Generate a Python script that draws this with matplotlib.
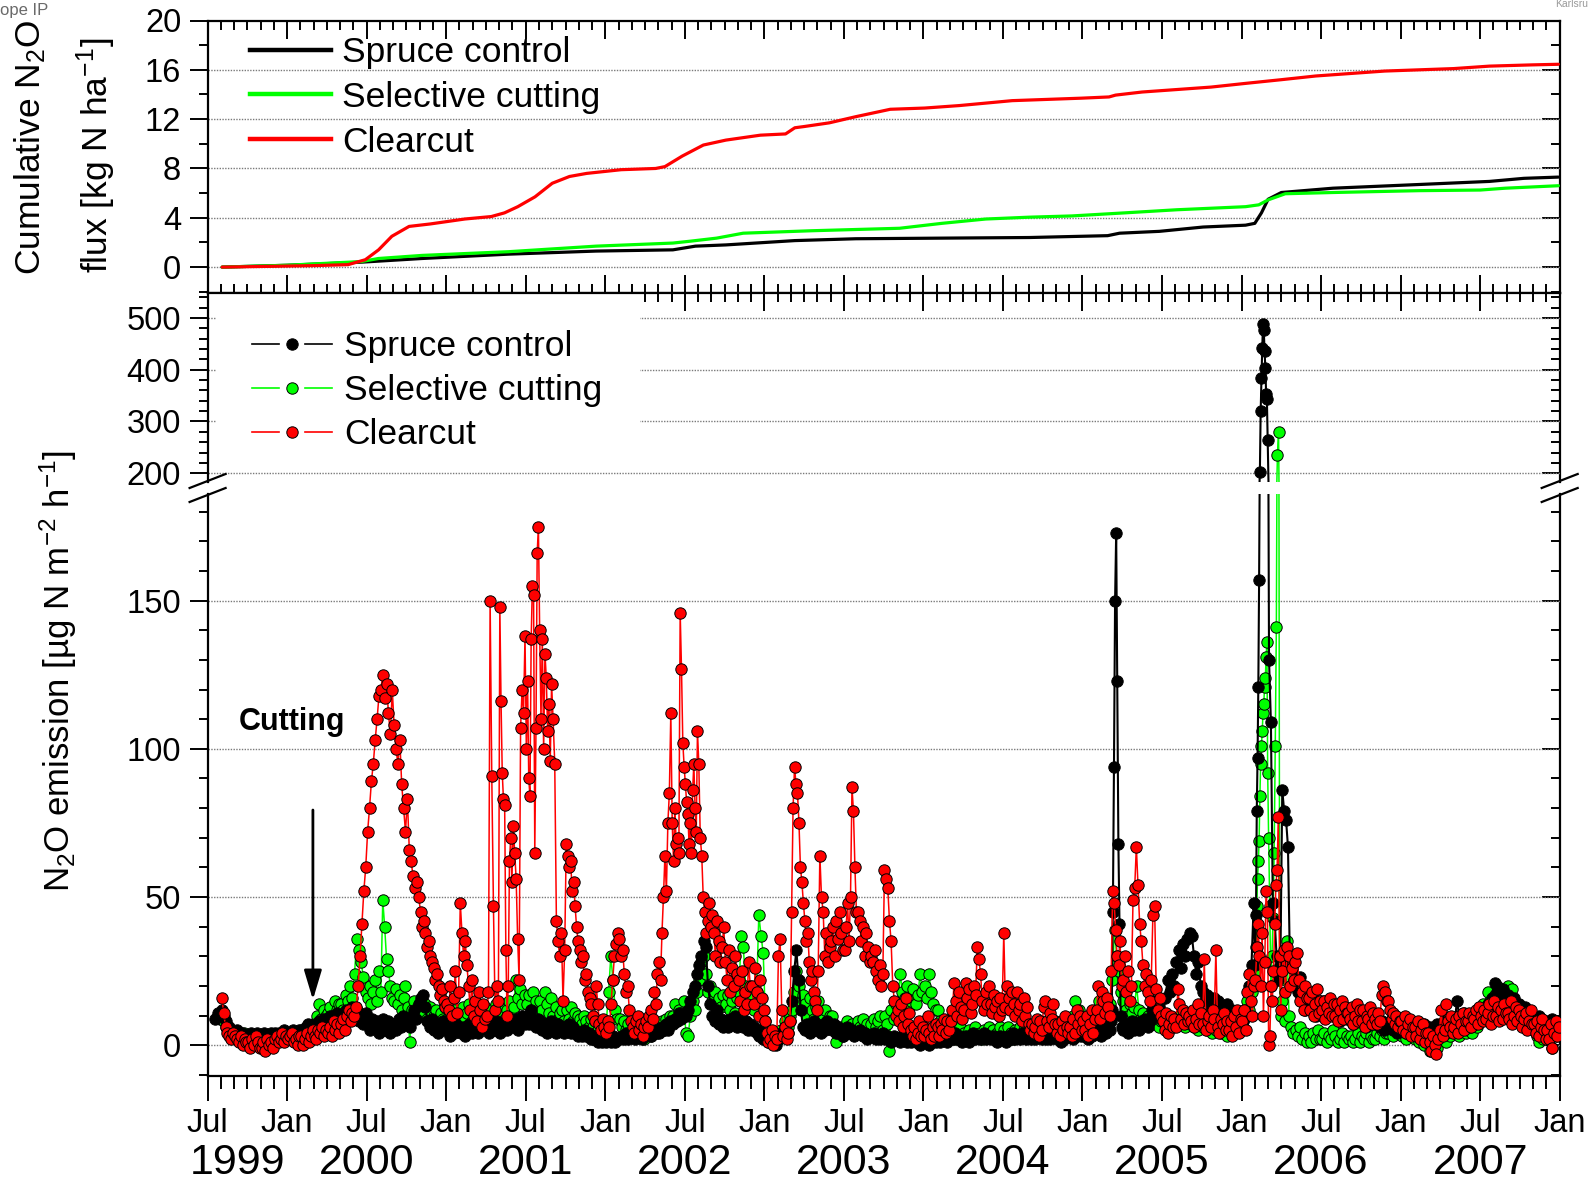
import numpy as np
import matplotlib
matplotlib.use("Agg")
import matplotlib.pyplot as plt
from matplotlib.lines import Line2D
from matplotlib.legend_handler import HandlerBase
from matplotlib.patches import Rectangle
from matplotlib.ticker import FixedLocator
from matplotlib.transforms import blended_transform_factory

plt.rcParams['font.family'] = ['Liberation Sans', 'DejaVu Sans']
plt.rcParams['mathtext.fontset'] = 'custom'
plt.rcParams['mathtext.rm'] = 'Liberation Sans'
plt.rcParams['mathtext.it'] = 'Liberation Sans:italic'
plt.rcParams['mathtext.bf'] = 'Liberation Sans:bold'
plt.rcParams['mathtext.default'] = 'regular'

# ---------------------------------------------------------------------------
# Time axis: decimal years, first month = July 1999
START = 1999.5
X_MAJOR = [1999.5 + 0.5 * i for i in range(18)]
X_MAJOR_LABELS = ['Jul', 'Jan'] * 9
YEAR_LABELS = ['1999', '2000', '2001', '2002', '2003', '2004', '2005', '2006', '2007']
YEAR_POS = [1999.685, 2000.5, 2001.5, 2002.5, 2003.5, 2004.5, 2005.5, 2006.5, 2007.5]

SERIES = ['Spruce control', 'Selective cutting', 'Clearcut']
COLORS = ['#000000', '#00ff00', '#ff0000']

# ---------------------------------------------------------------------------
# N2O emission [ug N m-2 h-1]; one list per month (Jul 1999 ... Dec 2007),
# the values of a month are spread evenly over that month.
spruce_flux = [
    # 1999 Jul-Dec
    [None, None, None, 9, 11, 10], [12, 10, 8, 6, 5, 4], [4, 5, 3, 4, 2, 3], [3, 4, 2, 3, 4, 2],
    [3, 4, 3, 2, 4, 3], [4, 3, 4, 3, 5, 4],
    # 2000
    [3, 4, 5, 4, 3, 5], [5, 4, 6, 7, 5, 6], [7, 6, 8, 7, 9, 6], [8, 10, 7, 9, 11, 8],
    [10, 8, 12, 9, 11, 13], [9, 12, 8, 10, 7, 11],
    [8, 5, 9, 6, 8, 4], [6, 9, 5, 8, 4, 7], [7, 5, 9, 6, 10, 8], [8, 6, 10, 12, 9, 14],
    [16, 17, 13, 8, 6, 9], [5, 7, 4, 6, 8, 5],
    # 2001
    [5, 3, 6, 4, 7, 5], [4, 6, 3, 5, 7, 4], [5, 7, 4, 8, 6, 9], [6, 4, 7, 5, 8, 6],
    [4, 6, 8, 5, 7, 9], [6, 9, 5, 8, 10, 7],
    [10, 7, 12, 8, 6, 9], [8, 5, 7, 4, 6, 8], [6, 4, 7, 5, 6, 4], [5, 7, 4, 6, 5, 3],
    [4, 3, 5, 3, 4, 2], [2, 3, 1, 2, 1, 2],
    # 2002
    [1, 2, 1, 3, 1, 2], [2, 3, 2, 4, 2, 3], [3, 2, 4, 3, 2, 4], [3, 4, 3, 5, 4, 5],
    [4, 6, 5, 7, 5, 8], [7, 9, 8, 11, 9, 10],
    [10, 12, 15, 18, 20, 24], [27, 30, 35, 33, 20, 14], [10, 8, 12, 7, 9, 6], [8, 6, 9, 7, 10, 6],
    [7, 9, 6, 8, 5, 7], [5, 6, 4, 3, 5, 2],
    # 2003
    [2, 1, 3, 1, 2, 0], [2, 4, 3, 6, 4, 8], [15, 25, 32, 22, 12, 6], [5, 7, 4, 6, 8, 5],
    [6, 4, 7, 5, 8, 6], [5, 7, 4, 6, 5, 3],
    [5, 6, 4, 5, 3, 4], [4, 5, 3, 4, 2, 3], [3, 4, 2, 3, 2, 4], [2, 3, 2, 1, 3, 2],
    [2, 1, 3, 2, 1, 2], [1, 2, 1, 2, 0, 1],
    # 2004
    [1, 2, 0, 1, 3, 1], [2, 1, 2, 3, 1, 2], [3, 2, 4, 2, 3, 1], [2, 3, 1, 2, 4, 2],
    [3, 2, 3, 4, 2, 3], [2, 3, 2, 1, 3, 2],
    [2, 1, 3, 2, 4, 2], [3, 2, 4, 3, 2, 4], [2, 3, 2, 4, 3, 2], [3, 2, 3, 2, 4, 3],
    [2, 3, 1, 2, 3, 4], [3, 2, 4, 3, 5, 3],
    # 2005
    [3, 4, 2, 5, 3, 4], [4, 6, 3, 5, 4, 6], [5, 8, 12, 45, 94, 150, 173, 123, 68, 41, 10, 6],
    [5, 7, 4, 6, 8, 5], [6, 5, 8, 7, 9, 6], [8, 12, 15, 10, 13, 9],
    [10, 16, 22, 18, 24, 20], [28, 32, 26, 34, 30, 36], [38, 37, 30, 24, 28, 20],
    [18, 15, 17, 12, 14, 16], [12, 15, 10, 13, 11, 14], [10, 12, 8, 9, 11, 7],
    # 2006
    [8, 12, 10, 20, 27, 48],
    [27, 44, 79, 97, 121, 157, 203, 320, 383, 441, 489, 477, 436, 404, 354, 343, 264],
    [130, 109, 48, 42, 30, 22, 27], [86, 79, 76, 67, 29, 26, 22], [20, 18, 23, 15, 12, 17],
    [14, 12, 16, 10, 13, 15],
    [12, 15, 10, 13, 11, 14], [10, 12, 8, 11, 13, 9], [9, 11, 7, 10, 12, 8], [8, 10, 6, 9, 7, 10],
    [7, 9, 6, 8, 5, 7], [6, 8, 5, 7, 4, 6],
    # 2007
    [5, 7, 4, 6, 8, 5], [5, 3, 6, 4, 7, 5], [4, 6, 3, 5, 7, 4], [5, 8, 4, 9, 6, 8],
    [8, 15, 10, 7, 11, 9], [8, 6, 10, 7, 9, 11],
    [9, 12, 10, 14, 11, 16], [21, 18, 16, 14, 19, 17], [17, 15, 13, 16, 12, 14],
    [12, 10, 13, 8, 11, 9], [9, 6, 10, 7, 8, 5], [8, 5, 9, 6, 7, 4],
]

selective_flux = [
    # 1999 Jul-Dec
    [None, None, None, None, 10, 9], [9, 8, 6, 4, 5, 3], [3, 2, 3, 2, 4, 2], [2, 3, 1, 2, 3, 1],
    [2, 1, 2, 3, 1, 2], [3, 2, 3, 2, 4, 3],
    # 2000
    [2, 3, 2, 4, 3, 4], [3, 5, 4, 6, 5, 7], [6, 10, 14, 9, 12, 10], [11, 13, 10, 15, 12, 14],
    [14, 12, 17, 15, 20, 16], [24, 36, 32, 28, 23, 18],
    [16, 20, 14, 18, 22, 15, 25], [18, 49, 40, 29, 25, 20, 16], [15, 19, 14, 17, 12, 16, 20],
    [13, 1, 12, 15, 10, 14], [12, 10, 14, 9, 13, 11], [10, 12, 8, 11, 9, 13],
    # 2001
    [9, 11, 8, 12, 10, 7], [10, 13, 9, 11, 14, 8], [12, 9, 14, 11, 8, 13], [10, 8, 12, 9, 14, 11],
    [11, 14, 9, 12, 15, 10], [13, 22, 16, 19, 14, 17],
    [14, 17, 12, 18, 15, 11], [15, 12, 18, 14, 11, 16], [10, 13, 9, 11, 12, 8],
    [12, 9, 13, 8, 11, 10], [9, 7, 10, 8, 6, 9], [6, 8, 5, 7, 4, 6],
    # 2002
    [8, 18, 30, 22, 12, 9], [9, 6, 8, 5, 7, 4], [5, 4, 6, 3, 5, 2], [4, 6, 3, 5, 7, 4],
    [6, 8, 5, 9, 7, 10], [10, 14, 8, 12, 11, 15],
    [4, 3, 10, 15, 12, 18], [22, 28, 30, 24, 18, 20], [15, 18, 12, 16, 13, 17],
    [14, 17, 12, 15, 11, 16], [18, 37, 33, 20, 14, 16], [16, 12, 18, 44, 37, 31],
    # 2003
    [8, 5, 3, 2, 4, 1], [3, 5, 4, 8, 6, 10], [12, 18, 25, 20, 15, 17], [14, 10, 16, 12, 9, 13],
    [15, 11, 9, 12, 8, 10], [10, 5, 1, 4, 6, 3],
    [6, 8, 5, 7, 4, 6], [8, 6, 9, 5, 7, 4], [7, 9, 6, 8, 10, 5], [10, 7, -2, 12, 9, 14],
    [14, 24, 18, 16, 20, 13], [15, 19, 14, 17, 24, 18],
    # 2004
    [20, 16, 24, 18, 14, 12], [12, 8, 6, 4, 7, 5], [3, 5, 2, 4, 6, 3], [4, 3, 5, 2, 4, 6],
    [3, 4, 2, 5, 3, 6], [4, 5, 3, 4, 6, 2],
    [5, 3, 6, 4, 2, 5], [4, 6, 3, 5, 7, 4], [5, 4, 6, 3, 5, 7], [4, 5, 3, 6, 4, 8],
    [5, 3, 6, 4, 7, 5], [6, 10, 15, 8, 12, 7],
    # 2005
    [7, 5, 8, 6, 9, 4], [8, 15, 10, 12, 9, 14], [14, 22, 39, 30, 25, 18], [15, 12, 10, 14, 11, 13],
    [20, 12, 9, 11, 8, 10], [8, 10, 7, 9, 6, 8],
    [9, 7, 10, 8, 6, 9], [8, 10, 7, 9, 6, 8], [7, 9, 6, 8, 5, 7], [6, 8, 5, 7, 4, 6],
    [5, 6, 4, 7, 5, 3], [6, 8, 5, 9, 7, 10],
    # 2006
    [8, 10, 15, 12, 18, 25],
    [25, 33, 47, 56, 62, 69, 84, 95, 101, 106, 112, 115, 121, 124, 131, 136, 92],
    [70, 47, 20, 30, 43, 65, 101, 141, 235, 280, 22, 10],
    [15, 8, 35, 10, 6, 4], [5, 3, 6, 2, 4, 1], [3, 1, 4, 2, 5, 2],
    [2, 4, 1, 3, 2, 5], [3, 1, 2, 4, 1, 3], [2, 3, 1, 2, 4, 1], [3, 2, 4, 1, 3, 2],
    [2, 4, 3, 5, 2, 4], [4, 6, 3, 5, 7, 4],
    # 2007
    [3, 5, 2, 4, 6, 3], [2, 4, 1, 3, 0, 2], [1, -2, 3, 0, -1, 2], [2, 4, 1, 5, 3, 6],
    [4, 6, 3, 5, 7, 4], [5, 7, 4, 8, 6, 9],
    [10, 14, 12, 18, 15, 13], [17, 20, 16, 19, 18, 15], [20, 17, 19, 15, 14, 12],
    [12, 10, 8, 6, 9, 7], [5, 3, 1, 4, 2, 5], [2, 5, -1, 7, 3, 6],
]

clearcut_flux = [
    # 1999 Jul-Dec
    [], [16, 11, 6, 4, 3, 2, 4], [3, 2, 1, 3, 0, 2, 1], [1, -1, 2, 0, 3, 1, -1],
    [-1, 1, -2, 2, 0, 1, -1], [2, 3, 1, 2, 4, 1, 3],
    # 2000
    [2, 3, 4, 1, 2, 0, 3], [3, 0, 2, 4, 1, 3, 5], [3, 2, 5, 4, 6, 3, 5], [4, 6, 3, 8, 5, 7, 4],
    [7, 9, 5, 10, 12, 8, 11], [10, 13, 20, 30, 41, 52, 60],
    [72, 80, 89, 95, 103, 110, 118], [120, 125, 117, 122, 112, 105, 120],
    [108, 100, 95, 103, 88, 80, 72], [83, 66, 62, 57, 53, 55, 50],
    [45, 40, 42, 38, 33, 35, 30, 28], [26, 22, 24, 20, 17, 19, 15, 13],
    # 2001
    [14, 12, 20, 10, 16, 25, 11, 18], [48, 38, 30, 35, 27, 20, 12, 22],
    [10, 15, 8, 18, 12, 6, 14, 9], [10, 18, 150, 91, 47, 12, 20, 15],
    [148, 116, 92, 83, 81, 32, 10, 20, 62, 70, 55],
    [74, 65, 56, 36, 22, 107, 120, 112, 138],
    [100, 123, 90, 84, 137, 155, 152, 65, 107, 166, 175],
    [140, 110, 137, 100, 132, 124, 106, 115, 96, 122],
    [110, 95, 42, 35, 30, 38, 15, 32], [68, 64, 60, 62, 52, 55, 47, 40, 35],
    [32, 28, 30, 22, 24, 18, 16, 14], [10, 8, 20, 14, 7, 5, 9, 6],
    # 2002
    [4, 8, 6, 14, 22, 30, 34, 38], [36, 30, 32, 24, 18, 20, 12, 8], [6, 4, 8, 10, 5, 7, 3, 6],
    [8, 6, 10, 12, 9, 18, 14, 24],
    [28, 22, 38, 50, 64, 52, 75, 85, 112],
    [75, 62, 80, 68, 70, 65, 146, 127, 102, 94],
    [88, 82, 78, 68, 75, 65, 86, 95, 80, 72, 106],
    [95, 70, 64, 50, 45, 38, 42, 48, 40], [44, 38, 30, 42, 35, 28, 33, 40],
    [28, 22, 32, 18, 26, 20, 30, 24], [22, 15, 25, 12, 18, 14, 28, 20],
    [20, 14, 26, 18, 10, 22, 16, 12],
    # 2003
    [8, 4, 1, 2, 5, 0, 3, 2], [30, 36, 12, 3, 6, 2, 4, 8],
    [45, 80, 94, 88, 85, 75, 60, 55, 48], [42, 35, 38, 28, 22, 25, 18, 15, 12],
    [25, 64, 50, 45, 30, 38, 28, 33], [35, 40, 30, 42, 36, 45, 38, 32],
    [32, 40, 48, 35, 50, 87, 79, 60, 45], [45, 42, 35, 40, 30, 38, 33, 28],
    [30, 28, 32, 25, 22, 27, 20, 24], [59, 56, 53, 42, 35, 20, 15, 10],
    [12, 8, 14, 6, 10, 16, 7, 11], [5, 3, 6, 2, 4, 8, 3, 6],
    # 2004
    [3, 5, 10, 4, 2, 6, 3, 7], [6, 3, 7, 5, 9, 4, 8, 5], [8, 12, 21, 15, 10, 18, 13, 9],
    [12, 21, 16, 19, 11, 14, 20, 17], [33, 29, 24, 15, 12, 18, 14, 20],
    [14, 11, 17, 13, 15, 10, 16, 12],
    [38, 13, 20, 16, 12, 18, 14, 10], [18, 12, 14, 8, 16, 10, 13, 7], [5, 7, 4, 6, 9, 3, 8, 5],
    [13, 15, 8, 6, 11, 9, 14, 7], [4, 7, 3, 8, 5, 10, 6, 4], [6, 3, 9, 4, 12, 7, 10, 5],
    # 2005
    [8, 5, 10, 3, 7, 12, 4, 9], [12, 20, 9, 18, 15, 11, 16, 13],
    [10, 25, 52, 48, 39, 30, 27, 35, 20], [22, 30, 18, 25, 15, 20, 49, 53],
    [67, 54, 41, 35, 27, 20, 24, 18], [15, 22, 44, 47, 19, 12, 16, 10],
    [8, 5, 11, 4, 7, 10, 6, 9], [6, 19, 14, 9, 12, 7, 11, 8], [10, 8, 12, 6, 9, 14, 7, 11],
    [7, 29, 5, 8, 10, 6, 12, 9], [32, 6, 4, 9, 7, 11, 5, 8], [5, 8, 3, 10, 6, 12, 4, 9],
    # 2006
    [8, 12, 5, 18, 24, 15, 10, 20], [22, 33, 41, 30, 20, 38, 10, 28, 52, 45],
    [0, 3, 20, 15, 25, 41, 54, 59, 77, 30, 12],
    [25, 32, 18, 33, 30, 20, 26, 22], [28, 31, 22, 15, 18, 12, 20, 16],
    [16, 12, 18, 10, 14, 19, 11, 15],
    [12, 15, 9, 13, 11, 16, 10, 14], [10, 14, 8, 12, 15, 9, 13, 11], [11, 9, 13, 7, 10, 14, 8, 12],
    [8, 12, 6, 10, 9, 13, 7, 11], [9, 7, 11, 8, 17, 20, 18, 15], [15, 12, 9, 11, 7, 10, 6, 8],
    # 2007
    [8, 5, 10, 4, 7, 9, 3, 6], [6, 3, 8, 2, 5, 7, 1, 4], [4, 1, -2, 3, 0, -3, 2, 5],
    [12, 3, 5, 14, 8, 6, 10, 4], [6, 9, 4, 10, 7, 11, 5, 8], [8, 11, 6, 10, 9, 12, 7, 13],
    [10, 8, 12, 9, 11, 14, 7, 10], [15, 10, 13, 8, 12, 9, 14, 11], [11, 9, 15, 7, 10, 13, 8, 12],
    [10, 6, 9, 11, 5, 8, 12, 7], [7, 4, 8, 3, 6, 9, 5, 2], [5, 2, 7, -1, 4, 8, 3, 6],
]

# Cumulative N2O flux [kg N ha-1]: (months since July 1999, value)
spruce_cum_month = [1.1, 6, 11.6, 16.2, 22.7, 29.3, 35.1, 36.8, 39.1, 44.3, 48.9, 55.4, 62.0, 67.9,
                    68.8, 71.8, 75.1, 78.3, 79.0, 79.5, 80.0, 81.0, 84.9, 91.4, 96.7, 99.3, 101.9]
spruce_cum = [0.0, 0.15, 0.4, 0.7, 1.05, 1.3, 1.4, 1.7, 1.8, 2.15, 2.3, 2.35, 2.4, 2.55,
              2.75, 2.9, 3.25, 3.4, 3.55, 4.4, 5.5, 6.05, 6.4, 6.7, 6.95, 7.2, 7.3]

selective_cum_month = [1.1, 6, 11.6, 12.9, 16.2, 22.7, 29.3, 35.1, 36.4, 38.4, 40.4, 45.6, 52.2, 55.4,
                       58.7, 62.0, 65.2, 69.2, 73.1, 78.3, 79.3, 80.0, 81.3, 84.9, 91.4, 96.0, 97.9,
                       101.9]
selective_cum = [0.0, 0.15, 0.45, 0.7, 0.95, 1.25, 1.7, 1.95, 2.1, 2.35, 2.75, 2.95, 3.15, 3.55,
                 3.9, 4.05, 4.15, 4.4, 4.65, 4.9, 5.05, 5.45, 5.95, 6.05, 6.2, 6.25, 6.4, 6.6]

clearcut_cum_month = [1.1, 4, 8, 10.6, 11.9, 12.9, 13.9, 15.2, 16.8, 18.1, 19.4, 21.4, 22.4, 23.4,
                      24.7, 26.0, 27.3, 28.6, 31.2, 33.8, 34.5, 35.8, 37.4, 39.1, 41.7, 43.6, 44.3,
                      45.0, 46.9, 48.9, 51.5, 54.1, 56.7, 58.7, 60.7, 63.3, 65.9, 68.0, 68.5, 70.5,
                      73.1, 75.7, 78.3, 81.0, 83.6, 86.2, 88.8, 91.4, 94.0, 96.7, 99.9, 101.9]
clearcut_cum = [0.0, 0.05, 0.12, 0.2, 0.6, 1.4, 2.5, 3.3, 3.5, 3.7, 3.9, 4.1, 4.4, 4.9,
                5.7, 6.8, 7.35, 7.6, 7.9, 8.0, 8.15, 9.0, 9.9, 10.3, 10.7, 10.8, 11.3,
                11.4, 11.7, 12.2, 12.8, 12.9, 13.1, 13.3, 13.5, 13.6, 13.7, 13.8, 13.95, 14.2,
                14.4, 14.6, 14.9, 15.2, 15.5, 15.7, 15.9, 16.0, 16.1, 16.3, 16.4, 16.45]


def expand(monthly):
    """Turn per-month value lists into (decimal year, value) arrays."""
    t, v = [], []
    for m, vals in enumerate(monthly):
        n = len(vals)
        for k, val in enumerate(vals):
            t.append(START + (m + (k + 0.5) / n) / 12.0)
            v.append(np.nan if val is None else float(val))
    return np.array(t), np.array(v)


def months_to_years(months):
    return START + np.asarray(months, dtype=float) / 12.0


flux = [expand(spruce_flux), expand(selective_flux), expand(clearcut_flux)]
cum = [(months_to_years(spruce_cum_month), np.array(spruce_cum)),
       (months_to_years(selective_cum_month), np.array(selective_cum)),
       (months_to_years(clearcut_cum_month), np.array(clearcut_cum))]

# ---------------------------------------------------------------------------
W, H = 1588, 1185
fig = plt.figure(figsize=(W / 100, H / 100), dpi=100)


def box(x0, y0, x1, y1):
    return [x0 / W, 1 - y1 / H, (x1 - x0) / W, (y1 - y0) / H]


LEFT, RIGHT = 207.6, 1559.7
ax_top = fig.add_axes(box(LEFT, 20.5, RIGHT, 293))
ax_mid = fig.add_axes(box(LEFT, 293, RIGHT, 482))
ax_low = fig.add_axes(box(LEFT, 494, RIGHT, 1075.6))

TICK_FS = 23.5
SPINE_W = 1.6
GRID_KW = dict(color='#7a7a7a', linestyle=(0, (1, 1)), linewidth=1.0)
x_minor = [START + i / 12.0 for i in range(103)]

for ax in (ax_top, ax_mid, ax_low):
    ax.set_xlim(1999.5, 2008.0)
    ax.set_axisbelow(True)
    for s in ax.spines.values():
        s.set_linewidth(SPINE_W)
    ax.spines['right'].set_visible(False)
    ax.set_xticks(X_MAJOR)
    ax.xaxis.set_minor_locator(FixedLocator(x_minor))
    ax.tick_params(axis='x', which='major', length=13, width=1.4)
    ax.tick_params(axis='x', which='minor', length=6.5, width=1.4)
    ax.tick_params(axis='y', which='major', length=13, width=1.4, labelsize=TICK_FS, pad=6,
                   direction='out', right=False)
    ax.tick_params(axis='y', which='minor', length=6.5, width=1.4, direction='out', right=False)


def right_ticks(ax, major, minor):
    sec = ax.secondary_yaxis('right')
    sec.set_yticks(major)
    sec.set_yticklabels([])
    sec.yaxis.set_minor_locator(FixedLocator(minor))
    sec.tick_params(which='major', direction='in', length=13, width=1.4)
    sec.tick_params(which='minor', direction='in', length=6.5, width=1.4)
    sec.spines['right'].set_linewidth(SPINE_W)
    return sec


# --- top panel: cumulative flux
ax_top.set_ylim(-2.1, 20)
top_major = [0, 4, 8, 12, 16, 20]
top_minor = [-2, 2, 6, 10, 14, 18]
ax_top.set_yticks(top_major)
ax_top.yaxis.set_minor_locator(FixedLocator(top_minor))
ax_top.tick_params(axis='x', which='both', direction='in', top=True, bottom=True,
                   labelbottom=False)
for yv in [0, 4, 8, 12, 16]:
    ax_top.axhline(yv, zorder=0.5, **GRID_KW)
right_ticks(ax_top, top_major, top_minor)

for (t, v), c in zip(cum, COLORS):
    ax_top.plot(t, v, color=c, lw=2.3, solid_capstyle='round', zorder=3)

top_handles = [Line2D([], [], color=c, lw=3.2) for c in COLORS]
ax_top.legend(top_handles, SERIES, loc='upper left', bbox_to_anchor=(250 / W, 1 - 36 / H),
              bbox_transform=fig.transFigure, frameon=False, fontsize=25.5,
              handlelength=2.3, handletextpad=0.31, labelspacing=0.335, borderpad=0,
              borderaxespad=0)

# --- middle panel: upper part of the broken emission axis
MID_BOTTOM = 183.2
ax_mid.set_ylim(MID_BOTTOM, 548)
mid_major = [200, 300, 400, 500]
mid_minor = [220, 240, 260, 280, 320, 340, 360, 380, 420, 440, 460, 480, 520, 540]
ax_mid.set_yticks(mid_major)
ax_mid.yaxis.set_minor_locator(FixedLocator(mid_minor))
ax_mid.spines['bottom'].set_visible(False)
ax_mid.tick_params(axis='x', which='both', direction='in', top=True, bottom=False,
                   labelbottom=False)
for yv in mid_major:
    ax_mid.axhline(yv, zorder=0.5, **GRID_KW)
right_ticks(ax_mid, mid_major, mid_minor)

# --- lower panel
ax_low.set_ylim(-10.26, 186.0)
low_major = [0, 50, 100, 150]
low_minor = [-10] + [v for v in range(10, 190, 10) if v % 50]
ax_low.set_yticks(low_major)
ax_low.yaxis.set_minor_locator(FixedLocator(low_minor))
ax_low.spines['top'].set_visible(False)
ax_low.tick_params(axis='x', which='both', direction='out', top=False, bottom=True)
ax_low.tick_params(axis='x', which='major', length=18, labelsize=TICK_FS, pad=5)
ax_low.tick_params(axis='x', which='minor', length=9)
ax_low.set_xticklabels(X_MAJOR_LABELS)
for yv in low_major:
    ax_low.axhline(yv, zorder=0.5, **GRID_KW)
right_ticks(ax_low, low_major, low_minor)

xt = ax_low.get_xaxis_transform()
for pos, lab in zip(YEAR_POS, YEAR_LABELS):
    ax_low.text(pos, -0.151, lab, transform=xt, ha='center', va='center', fontsize=31)

# emission series on both parts of the broken axis
line_w = [1.5, 1.1, 1.1]
z_order = [3, 2, 4]
MARK_KW = dict(ms=8.2, mec='black', mew=0.7)
for i, ((t, v), c) in enumerate(zip(flux, COLORS)):
    ax_low.plot(t, v, '-', color=c, lw=line_w[i], marker='o', mfc=c, zorder=z_order[i], **MARK_KW)
    # upper part: connecting lines everywhere, dots only inside the visible range
    ax_mid.plot(t, v, '-', color=c, lw=line_w[i], zorder=z_order[i])
    v_dots = np.where(v >= MID_BOTTOM + 8, v, np.nan)
    ax_mid.plot(t, v_dots, ls='none', marker='o', mfc=c, zorder=z_order[i], **MARK_KW)


# legend of the emission panel (line - dot - line)
class GapLineHandler(HandlerBase):
    def create_artists(self, legend, orig_handle, xdescent, ydescent, width, height,
                       fontsize, trans):
        y = height / 2.0 - ydescent
        x0 = -xdescent
        c = orig_handle.get_color()
        lw = orig_handle.get_linewidth()
        a = Line2D([x0, x0 + 0.34 * width], [y, y], color=c, lw=lw)
        b = Line2D([x0 + 0.66 * width, x0 + width], [y, y], color=c, lw=lw)
        d = Line2D([x0 + 0.5 * width], [y], ls='none', marker='o',
                   ms=orig_handle.get_markersize(), mfc=orig_handle.get_markerfacecolor(),
                   mec=orig_handle.get_markeredgecolor(), mew=orig_handle.get_markeredgewidth())
        for art in (a, b, d):
            art.set_transform(trans)
        return [a, b, d]


mid_handles = [Line2D([], [], color=c, lw=1.2, marker='o', ms=8.2, mfc=c, mec='black',
                      mew=0.7) for c in COLORS]
blend = blended_transform_factory(ax_mid.transAxes, ax_mid.transData)
ax_mid.add_patch(Rectangle((0.006, 270), 0.314, 300, transform=blend, facecolor='white',
                           edgecolor='none', zorder=1))
ax_mid.legend(mid_handles, SERIES, loc='upper left', bbox_to_anchor=(252 / W, 1 - 330 / H),
              bbox_transform=fig.transFigure, frameon=False, fontsize=25.5,
              handlelength=2.26, handletextpad=0.34, labelspacing=0.31, borderpad=0,
              borderaxespad=0, handler_map={Line2D: GapLineHandler()})

# axis break marks
for xc in (LEFT, RIGHT):
    for yc in (481, 495):
        fig.add_artist(Line2D([(xc - 18) / W, (xc + 18) / W],
                              [1 - (yc + 7) / H, 1 - (yc - 7) / H],
                              color='black', lw=1.6, transform=fig.transFigure))

# cutting annotation
ax_low.annotate('', xy=(2000.162, 14.4), xytext=(2000.162, 80.3),
                arrowprops=dict(arrowstyle='-|>,head_length=1.0,head_width=0.3',
                                color='black', lw=2.0, mutation_scale=18))
ax_low.text(2000.028, 109, 'Cutting', fontsize=22, fontweight='bold', ha='center', va='center')

# axis titles
fig.text(30.4 / W, 1 - 275 / H, 'Cumulative N$_2$O', rotation=90, rotation_mode='anchor',
         ha='left', va='center', fontsize=25.5)
fig.text(96.2 / W, 1 - 273 / H, 'flux [kg N ha$^{-1}$]', rotation=90, rotation_mode='anchor',
         ha='left', va='center', fontsize=25.5)
fig.text(58.7 / W, 1 - 671 / H, 'N$_2$O emission [µg N m$^{-2}$ h$^{-1}$]', rotation=90,
         ha='center', va='center', fontsize=25)

# slide remnants in the corners
fig.text(0.0, 1 - 10 / H, 'ope IP', color='#6a6a6a', fontsize=12, ha='left', va='center')
fig.text(1.0, 1 - 4 / H, 'Karlsru', color='#9a9a9a', fontsize=7.5, ha='right', va='center')

fig.savefig('out.png', dpi=100)
